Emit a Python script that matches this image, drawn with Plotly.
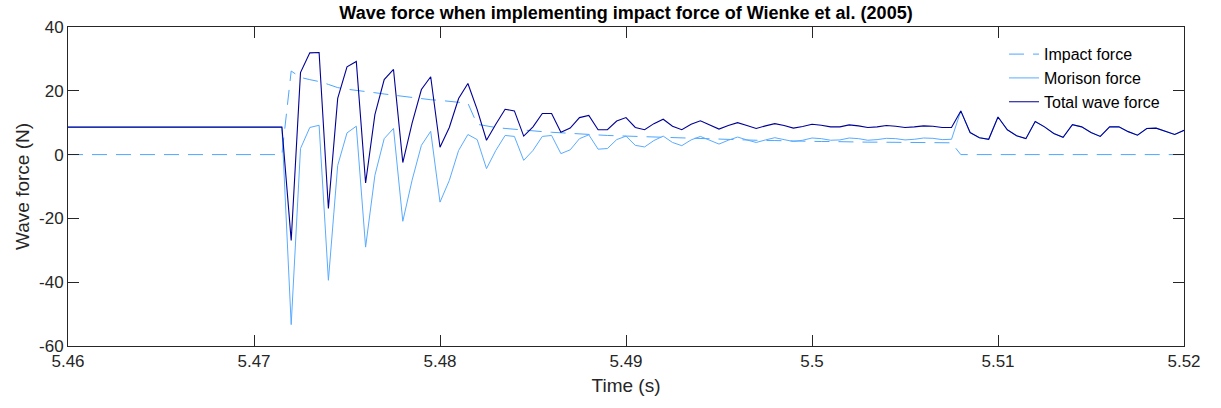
import plotly.graph_objects as go

# ---- data ----
t_start = 5.46
t_impact_start = 5.4715
dt = 0.0005

total_force = [
    8.6, -26.9, 25.7, 31.9, 32.0, -16.9, 17.6, 27.5, 29.2, -8.9,
    12.5, 23.5, 26.7, -2.5, 9.9, 20.4, 24.4, 2.3, 8.5, 17.6,
    22.3, 14.1, 4.5, 9.5, 14.2, 13.7, 5.8, 8.7, 12.9, 12.9,
    7.0, 8.3, 11.6, 12.3, 7.8, 7.8, 10.5, 11.6, 8.5, 7.8,
    9.7, 11.1, 8.9, 7.8, 9.5, 10.6, 9.3, 8.0, 9.1, 10.0,
    9.1, 8.2, 9.0, 9.7, 9.1, 8.3, 8.8, 9.5, 9.2, 8.7,
    8.7, 9.3, 9.0, 8.5, 8.7, 9.1, 8.9, 8.5, 8.7, 9.0,
    8.9, 8.5, 8.5, 13.7, 6.9, 5.3, 4.8, 11.8, 7.8, 5.9,
    5.0, 10.4, 8.7, 6.6, 5.4, 9.4, 8.7, 6.9, 5.7, 8.7,
    8.7, 7.2, 6.1, 8.2, 8.3, 7.2, 6.3, 7.6,
]

morison_force = [
    8.6, -53.3, 1.9, 8.5, 9.2, -39.4, -3.4, 6.8, 8.9, -29.0,
    -6.5, 5.0, 8.2, -20.9, -8.0, 2.9, 7.3, -14.9, -8.1, 1.3,
    6.3, 4.7, -4.4, 1.3, 6.0, 5.7, -1.8, 1.3, 5.7, 6.0,
    0.3, 1.5, 5.0, 6.2, 1.7, 1.9, 4.7, 5.8, 2.9, 2.4,
    4.4, 5.8, 3.8, 2.8, 4.6, 5.7, 4.6, 3.3, 4.5, 5.5,
    4.6, 3.8, 4.6, 5.3, 4.7, 4.1, 4.5, 5.2, 5.0, 4.5,
    4.6, 5.2, 5.0, 4.5, 4.7, 5.1, 5.0, 4.6, 4.8, 5.2,
    5.1, 4.7, 4.8, 13.7, 6.9, 5.3, 4.8, 11.8, 7.8, 5.9,
    5.0, 10.4, 8.7, 6.6, 5.4, 9.4, 8.7, 6.9, 5.7, 8.7,
    8.7, 7.2, 6.1, 8.2, 8.3, 7.2, 6.3, 7.6,
]

impact_force = [
    0.0, 26.2, 24.2, 23.5, 22.9, 22.0, 21.0, 20.5, 20.2, 19.9,
    19.4, 19.0, 18.6, 18.3, 17.9, 17.5, 17.2, 17.0, 16.7, 16.4,
    16.1, 9.5, 8.9, 8.5, 8.2, 7.9, 7.6, 7.4, 7.2, 7.0,
    6.8, 6.6, 6.5, 6.3, 6.1, 6.0, 5.9, 5.8, 5.6, 5.5,
    5.4, 5.3, 5.2, 5.1, 5.0, 4.9, 4.8, 4.8, 4.7, 4.6,
    4.6, 4.5, 4.4, 4.4, 4.3, 4.3, 4.2, 4.2, 4.1, 4.1,
    4.0, 4.0, 4.0, 3.9, 3.9, 3.9, 3.8, 3.8, 3.8, 3.7,
    3.7, 3.7, 3.7, 0.0, 0.0, 0.0, 0.0, 0.0, 0.0, 0.0,
    0.0, 0.0, 0.0, 0.0, 0.0, 0.0, 0.0, 0.0, 0.0, 0.0,
    0.0, 0.0, 0.0, 0.0, 0.0, 0.0, 0.0, 0.0,
]

pre_impact_total = 8.6
pre_impact_impact = 0.0

x_tick_vals = [5.46, 5.47, 5.48, 5.49, 5.50, 5.51, 5.52]
x_tick_text = ["5.46", "5.47", "5.48", "5.49", "5.5", "5.51", "5.52"]
y_tick_vals = [-60, -40, -20, 0, 20, 40]
y_tick_text = ["-60", "-40", "-20", "0", "20", "40"]

# time axis: initial sample, then sampled record at dt
time = [t_start] + [round(t_impact_start + i * dt, 6) for i in range(len(total_force))]
total_y = [pre_impact_total] + total_force
morison_y = [pre_impact_total] + morison_force
impact_y = [pre_impact_impact] + impact_force

FONT = "Liberation Sans, Arial, Helvetica, sans-serif"

fig = go.Figure()
fig.add_trace(go.Scatter(x=time, y=impact_y, mode="lines", name="Impact force",
                         line=dict(color="#4da6ff", width=1, dash="15px,9px")))
fig.add_trace(go.Scatter(x=time, y=morison_y, mode="lines", name="Morison force",
                         line=dict(color="#5aabff", width=1)))
fig.add_trace(go.Scatter(x=time, y=total_y, mode="lines", name="Total wave force",
                         line=dict(color="#000096", width=1.1)))

axis_common = dict(showline=True, linecolor="#262626", linewidth=1, mirror="allticks",
                   ticks="inside", ticklen=11, tickcolor="#262626", showgrid=False,
                   zeroline=False, tickfont=dict(family=FONT, size=17, color="#262626"))

fig.update_layout(
    width=1221, height=408,
    margin=dict(l=68, r=37, t=27, b=62),
    paper_bgcolor="white", plot_bgcolor="white",
    font=dict(family=FONT, color="#262626"),
    title=dict(text="<b>Wave force when implementing impact force of Wienke et al. (2005)</b>",
               xref="paper", x=0.5, xanchor="center",
               yref="container", y=0.968, yanchor="middle",
               font=dict(family=FONT, size=18, color="black")),
    xaxis=dict(range=[5.46, 5.52], tickvals=x_tick_vals, ticktext=x_tick_text,
               title=dict(text="Time (s)", font=dict(family=FONT, size=19, color="#262626"), standoff=8),
               **axis_common),
    yaxis=dict(range=[-60, 40], tickvals=y_tick_vals, ticktext=y_tick_text,
               title=dict(text="Wave force (N)", font=dict(family=FONT, size=19, color="#262626"), standoff=4),
               **axis_common),
    legend=dict(x=0.983, xanchor="right", y=0.968, yanchor="top",
                bgcolor="rgba(255,255,255,0)", borderwidth=0,
                font=dict(family=FONT, size=16, color="black"),
                tracegroupgap=0, itemwidth=30),
    showlegend=True,
)

fig.write_html("out.html")
